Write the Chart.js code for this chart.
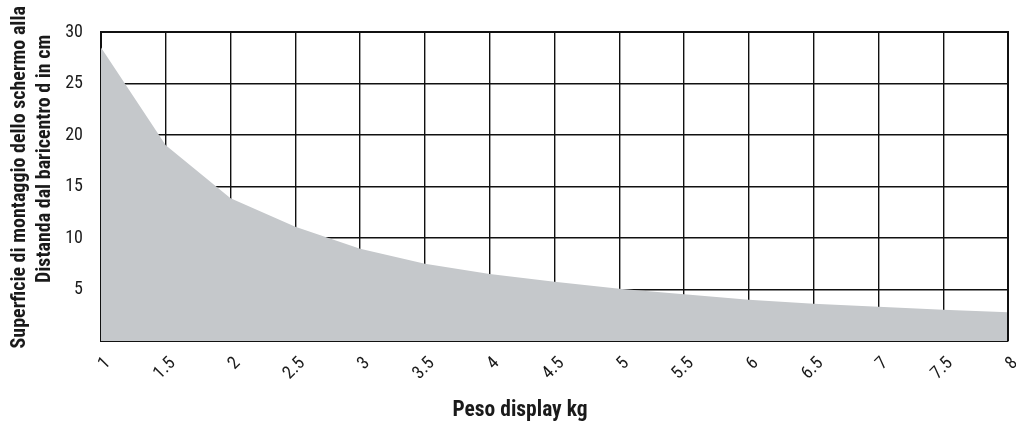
<!DOCTYPE html>
<html>
<head>
<meta charset="utf-8">
<script src="https://cdn.jsdelivr.net/npm/chart.js@4.4.1/dist/chart.umd.min.js"></script>
<style>
  html, body { margin: 0; padding: 0; background: #ffffff; }
  #wrap { width: 1016px; height: 425px; position: relative; }
</style>
</head>
<body>
<div id="wrap"><canvas id="c"></canvas></div>
<script>
// ---- data ----
const weightsKg = [1, 1.5, 2, 2.5, 3, 3.5, 4, 4.5, 5, 5.5, 6, 6.5, 7, 7.5, 8];
const distanceCm = [28.5, 19.0, 13.85, 11.1, 8.95, 7.5, 6.5, 5.75, 5.08, 4.53, 4.0, 3.62, 3.33, 3.04, 2.79];
const xTickLabels = ['1', '1.5', '2', '2.5', '3', '3.5', '4', '4.5', '5', '5.5', '6', '6.5', '7', '7.5', '8'];
const yTickValues = [0, 5, 10, 15, 20, 25, 30];
const yTickLabels = ['', '5', '10', '15', '20', '25', '30'];
const xTitle = 'Peso display kg';
const yTitle = ['Superficie di montaggio dello schermo alla', 'Distanda dal baricentro d in cm'];
// leading spaces that shift each rotated title line toward the top, as in the original
const yTitleLead = [4, 12];

const FONT = "'Roboto Condensed', 'Liberation Sans', sans-serif";
const INK = '#1a1a1a';
const points = weightsKg.map((x, i) => ({ x: x, y: distanceCm[i] }));

new Chart(document.getElementById('c'), {
  type: 'line',
  data: {
    datasets: [{
      data: points,
      fill: 'origin',
      backgroundColor: '#c5c8cb',
      borderWidth: 0,
      borderColor: 'rgba(0,0,0,0)',
      pointRadius: 0,
      tension: 0
    }]
  },
  options: {
    responsive: true,
    maintainAspectRatio: false,
    animation: false,
    events: [],
    layout: { padding: { left: 24, right: 0, top: 32, bottom: 1 } },
    plugins: {
      legend: { display: false },
      tooltip: { enabled: false },
      title: {
        display: true,
        position: 'bottom',
        text: xTitle,
        color: INK,
        font: { family: FONT, size: 21.5, weight: 'bold', lineHeight: 1.2 },
        padding: { top: 2, bottom: 0 }
      }
    },
    scales: {
      x: {
        type: 'linear',
        min: 1,
        max: 8,
        z: 1,
        afterBuildTicks: (scale) => { scale.ticks = weightsKg.map(v => ({ value: v })); },
        afterFit: (scale) => { scale.paddingRight = 8; },
        ticks: {
          minRotation: 45,
          maxRotation: 45,
          padding: 12,
          labelOffset: 7,
          color: INK,
          font: { family: FONT, size: 18, lineHeight: 1.2 },
          callback: (value) => { const i = weightsKg.indexOf(value); return i >= 0 ? xTickLabels[i] : ''; }
        },
        grid: { color: '#111', lineWidth: 1.4, drawTicks: false },
        border: { color: '#111', width: 2 }
      },
      y: {
        min: 0,
        max: 30,
        z: 1,
        afterBuildTicks: (scale) => { scale.ticks = yTickValues.map(v => ({ value: v })); },
        afterFit: (scale) => { scale.width = scale.width - scale.options.ticks.padding; },
        ticks: {
          padding: 18,
          color: INK,
          font: { family: FONT, size: 18 },
          callback: (value) => { const i = yTickValues.indexOf(value); return i >= 0 ? yTickLabels[i] : ''; }
        },
        grid: { color: '#111', lineWidth: 1.4, drawTicks: false },
        border: { color: '#111', width: 2 },
        title: {
          display: true,
          text: yTitle.map((t, i) => ' '.repeat(yTitleLead[i]) + t),
          color: INK,
          font: { family: FONT, size: 20, weight: 'bold', lineHeight: 1.23 },
          padding: { top: -16, bottom: 8 }
        }
      }
    }
  },
  plugins: [{
    id: 'frame',
    afterDraw(chart) {
      const { ctx, chartArea: a } = chart;
      ctx.save();
      ctx.strokeStyle = '#111';
      ctx.lineWidth = 2;
      ctx.beginPath();
      ctx.moveTo(a.left, a.top);
      ctx.lineTo(a.right, a.top);
      ctx.lineTo(a.right, a.bottom);
      ctx.stroke();
      ctx.restore();
    }
  }]
});
</script>
</body>
</html>
